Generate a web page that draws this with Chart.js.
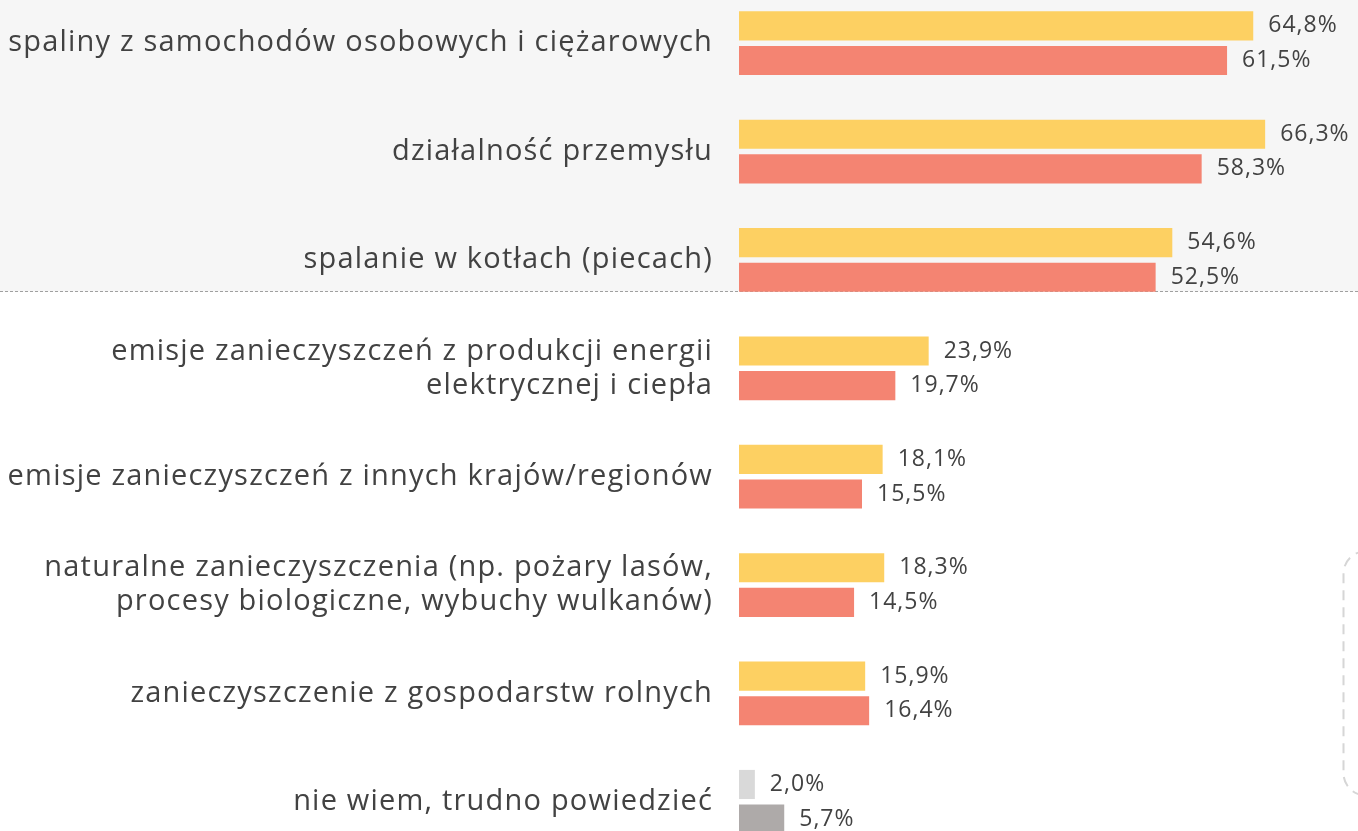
<!DOCTYPE html>
<html>
<head>
<meta charset="utf-8">
<script src="https://cdn.jsdelivr.net/npm/chart.js@4"></script>
<style>
  html, body { margin: 0; padding: 0; background: #fff; overflow: hidden; }
  #wrap { position: absolute; left: 0; top: -11px; width: 1358px; height: 867px; }
</style>
</head>
<body>
<div id="wrap"><canvas id="myChart"></canvas></div>
<script>
const categories = [
  "spaliny z samochodów osobowych i ciężarowych",
  "działalność przemysłu",
  "spalanie w kotłach (piecach)",
  ["emisje zanieczyszczeń z produkcji energii", "elektrycznej i ciepła"],
  "emisje zanieczyszczeń z innych krajów/regionów",
  ["naturalne zanieczyszczenia (np. pożary lasów,", "procesy biologiczne, wybuchy wulkanów)"],
  "zanieczyszczenie z gospodarstw rolnych",
  "nie wiem, trudno powiedzieć",
];
const seriesA = [64.8, 66.3, 54.6, 23.9, 18.1, 18.3, 15.9, 2.0];
const seriesB = [61.5, 58.3, 52.5, 19.7, 15.5, 14.5, 16.4, 5.7];

const fontFamily = "'Open Sans', sans-serif";
const textColor = "#424242";

const colorsA = seriesA.map((v, i) => (i === 7 ? "#d9d9d9" : "#fdd062"));
const colorsB = seriesB.map((v, i) => (i === 7 ? "#aeaaa9" : "#f48472"));

const fmt = (v) => v.toFixed(1).replace(".", ",") + "%";

// grey panel behind the first three groups + dashed separator + right-hand bracket
const backgroundPlugin = {
  id: "panel",
  beforeDraw(chart) {
    const ctx = chart.ctx;
    const y = chart.scales.y;
    const step = y.getPixelForValue(1) - y.getPixelForValue(0);
    const lineY = Math.round(y.getPixelForValue(2) + step * 0.285) + 0.5;
    ctx.save();
    ctx.fillStyle = "#f6f6f6";
    ctx.fillRect(0, 0, chart.width, lineY);
    ctx.strokeStyle = "#a0a0a0";
    ctx.lineWidth = 1;
    ctx.setLineDash([3, 2]);
    ctx.beginPath();
    ctx.moveTo(0, lineY);
    ctx.lineTo(chart.width, lineY);
    ctx.stroke();

    // bracket on the right
    const top = y.getPixelForValue(5) - step * 0.31;
    const bottom = y.getPixelForValue(7) - step * 0.06;
    const x = 1343.5;
    const r = 22;
    ctx.strokeStyle = "#d6d6d6";
    ctx.lineWidth = 2;
    ctx.setLineDash([10, 7]);
    ctx.beginPath();
    ctx.moveTo(x + r, top);
    ctx.arcTo(x, top, x, top + r, r);
    ctx.lineTo(x, bottom - r);
    ctx.arcTo(x, bottom, x + r, bottom, r);
    ctx.stroke();
    ctx.restore();
    // wider letter spacing for the category labels (font is narrower than the original)
    ctx.letterSpacing = "1.2px";
  },
};

const valueLabels = {
  id: "valueLabels",
  afterDatasetsDraw(chart) {
    const ctx = chart.ctx;
    ctx.save();
    ctx.font = "23px " + fontFamily;
    ctx.letterSpacing = "1px";
    ctx.fillStyle = textColor;
    ctx.textAlign = "left";
    ctx.textBaseline = "middle";
    chart.data.datasets.forEach((ds, di) => {
      chart.getDatasetMeta(di).data.forEach((bar, i) => {
        ctx.fillText(fmt(ds.data[i]), bar.x + 15, bar.y);
      });
    });
    ctx.restore();
  },
  afterDraw(chart) {
    chart.ctx.letterSpacing = "0px";
  },
};

const ctx = document.getElementById("myChart").getContext("2d");
const myChart = new Chart(ctx, {
  type: "bar",
  data: {
    labels: categories,
    datasets: [
      {
        label: "A",
        data: seriesA,
        backgroundColor: colorsA,
        categoryPercentage: 0.64,
        barPercentage: 0.84,
      },
      {
        label: "B",
        data: seriesB,
        backgroundColor: colorsB,
        categoryPercentage: 0.64,
        barPercentage: 0.84,
      },
    ],
  },
  options: {
    indexAxis: "y",
    responsive: true,
    maintainAspectRatio: false,
    animation: false,
    layout: { padding: 0 },
    plugins: {
      legend: { display: false },
      tooltip: { enabled: false },
    },
    scales: {
      x: {
        display: false,
        min: 0,
        max: 78,
      },
      y: {
        grid: { display: false, drawTicks: false },
        border: { display: false },
        ticks: {
          color: textColor,
          font: { family: fontFamily, size: 29, lineHeight: 1.17 },
          padding: 26,
          autoSkip: false,
        },
        afterFit(scale) {
          scale.width = 739;
          scale.paddingTop = 0;
          scale.paddingBottom = 0;
        },
      },
    },
  },
  plugins: [backgroundPlugin, valueLabels],
});
</script>
</body>
</html>
